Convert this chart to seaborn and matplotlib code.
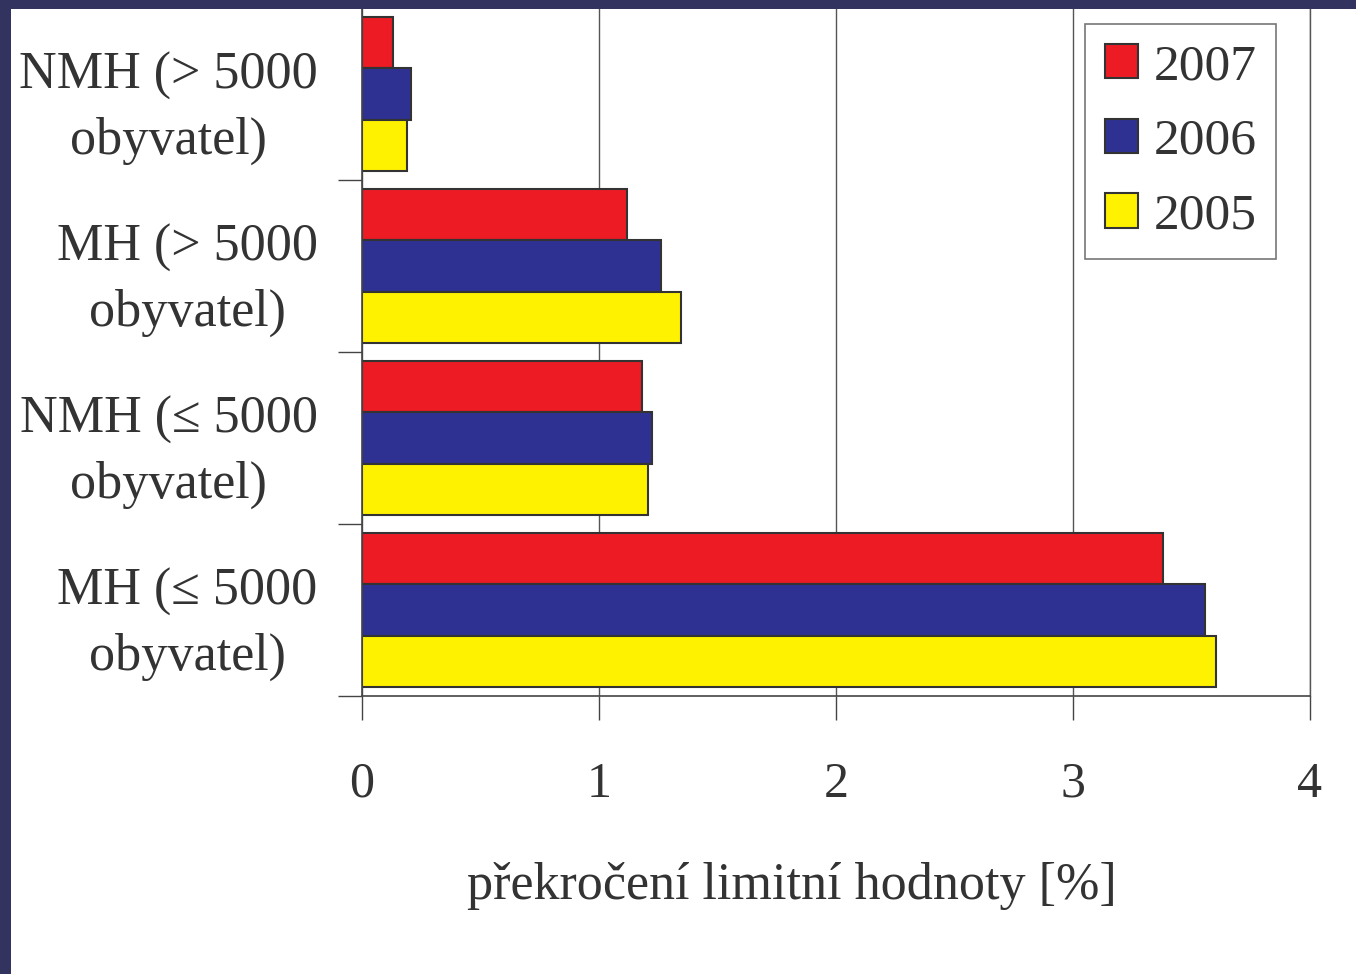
import matplotlib
matplotlib.use("Agg")
import matplotlib.pyplot as plt
import matplotlib.transforms as mtransforms
import seaborn as sns
import pandas as pd
from matplotlib.patches import Rectangle
from matplotlib.ticker import FixedLocator

categories = ["NMH (> 5000\nobyvatel)", "MH (> 5000\nobyvatel)",
              "NMH (≤ 5000\nobyvatel)", "MH (≤ 5000\nobyvatel)"]
years = ["2007", "2006", "2005"]
v2007 = [0.13, 1.12, 1.18, 3.38]
v2006 = [0.205, 1.26, 1.225, 3.555]
v2005 = [0.19, 1.345, 1.205, 3.605]
x_ticks = [0, 1, 2, 3, 4]
xlabel = "překročení limitní hodnoty [%]"

rows = []
for y, vals in zip(years, [v2007, v2006, v2005]):
    for c, v in zip(categories, vals):
        rows.append({"cat": c, "year": y, "val": v})
df = pd.DataFrame(rows)

sns.set_style("white")
plt.rcParams['font.family'] = ['Liberation Serif', 'DejaVu Serif']
txt = "#333333"

fig = plt.figure(figsize=(13.56, 9.74), dpi=100)
ax = fig.add_axes([362/1356, 1-696/974, 948/1356, 688/974])
ax.set_axisbelow(True)
ax.grid(axis="x", color="#555555", linewidth=1.0)

sns.barplot(data=df, y="cat", x="val", hue="year", order=categories,
            hue_order=years, palette=["#ED1C24", "#2E3192", "#FFF200"],
            orient="h", width=0.89, edgecolor="#333333", linewidth=1.5,
            ax=ax, saturation=1)

ax.set_xlim(0, 4)
ax.set_ylim(3.5, -0.5)
ax.set_xticks(x_ticks)
ax.set_xticklabels([str(t) for t in x_ticks], fontsize=36, color=txt)
ax.tick_params(axis="x", length=17, width=1, color="#444444", pad=30, direction="out")
ax.set_yticks(range(len(categories)))
ax.set_yticklabels(categories, fontsize=37.5, color=txt, ha="right",
                   multialignment="center", linespacing=1.45)
offset = mtransforms.ScaledTranslation(0, 5/100, fig.dpi_scale_trans)
for lab in ax.get_yticklabels():
    lab.set_multialignment("center")
    lab.set_ha("right")
    lab.set_transform(lab.get_transform() + offset)
ax.tick_params(axis="y", which="major", length=0, pad=32)
ax.yaxis.set_minor_locator(FixedLocator([0.5, 1.5, 2.5, 3.5]))
ax.tick_params(axis="y", which="minor", length=17, width=1, color="#444444", direction="out", left=True)
ax.tick_params(axis="x", bottom=True)

ax.spines["top"].set_visible(False)
ax.spines["right"].set_color("#555555")
ax.spines["right"].set_linewidth(1.0)
ax.spines["left"].set_color("#444444")
ax.spines["bottom"].set_color("#444444")
ax.spines["left"].set_linewidth(1.2)
ax.spines["bottom"].set_linewidth(1.2)

ax.set_ylabel("")
ax.set_xlabel(xlabel, fontsize=37.5, color=txt)
ax.xaxis.set_label_coords((792-362)/948, -(862-696)/688)

leg = ax.legend(loc="upper left", bbox_to_anchor=((1085-362)/948, 1-(24-8)/688),
                borderaxespad=0,
                fontsize=37, frameon=True, fancybox=False, edgecolor="#555555",
                handlelength=0.65, handleheight=0.65, handletextpad=0.3,
                labelspacing=0.55, borderpad=0.38, labelcolor=txt)
leg.get_frame().set_linewidth(1.2)

border = "#33335F"
fig.patches.append(Rectangle((0, 0), 11/1356, 1, transform=fig.transFigure,
                             facecolor=border, edgecolor="none", zorder=10))
fig.patches.append(Rectangle((0, 1-9/974), 1, 9/974, transform=fig.transFigure,
                             facecolor=border, edgecolor="none", zorder=10))

fig.savefig("out.png", dpi=100)
